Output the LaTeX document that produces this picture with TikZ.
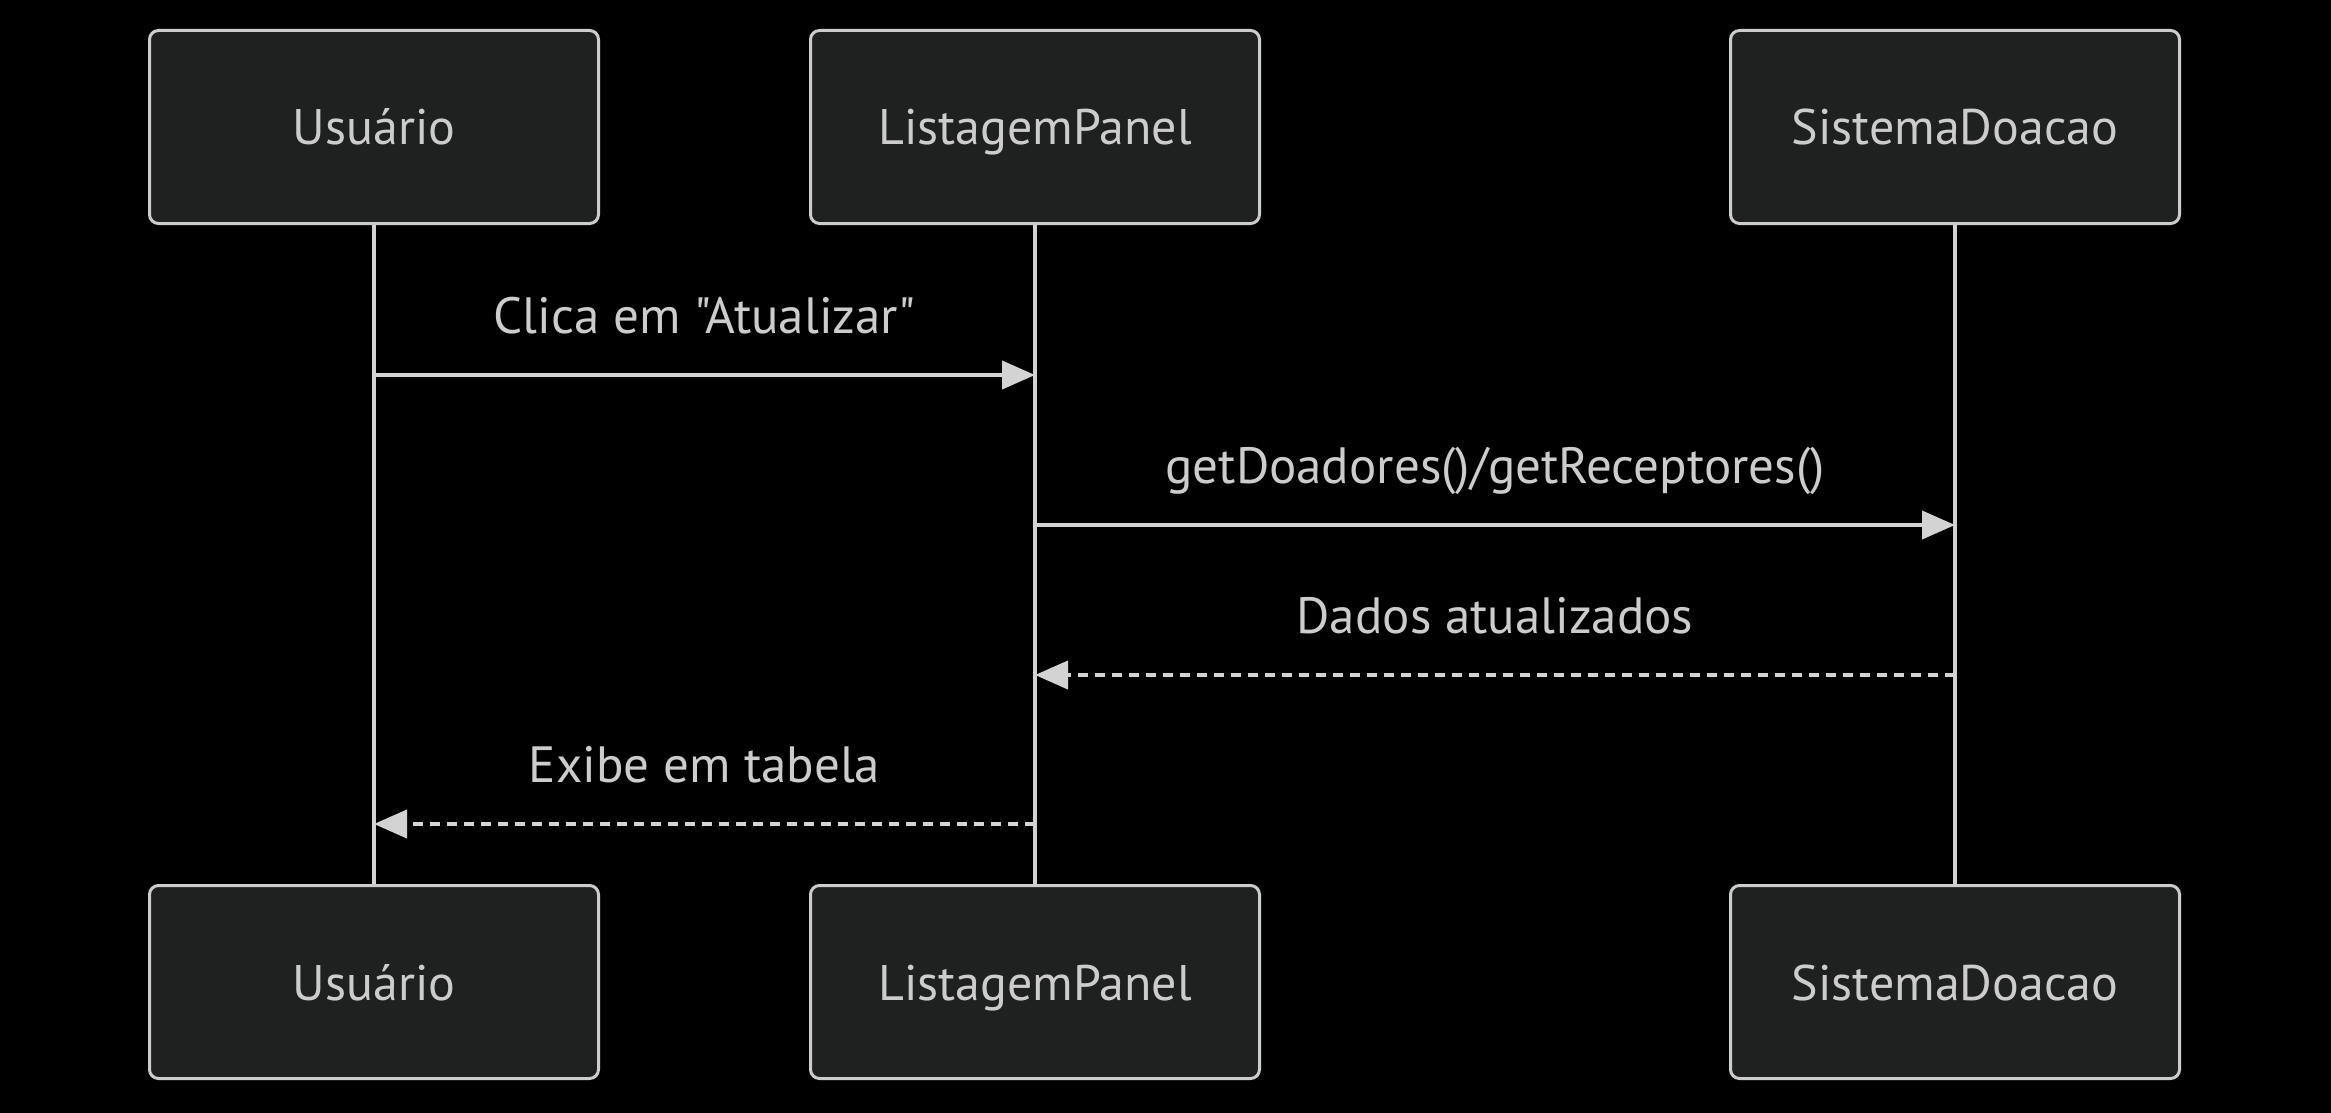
\documentclass[tikz,border=0pt]{standalone}
\usepackage{fontspec}
\setmainfont{PT Sans}[Ligatures=TeXOff]
\usetikzlibrary{positioning,arrows.meta}

\definecolor{actorfill}{HTML}{1F2020}
\definecolor{actorline}{HTML}{CCCCCC}
\definecolor{msgline}{HTML}{D3D3D3}

\tikzset{
    actor/.style={draw=actorline, fill=actorfill, line width=3pt, rounded corners=9pt,
        minimum width=449pt, minimum height=193pt, inner sep=0pt,
        text height=36pt, text depth=0pt,
        text=actorline, font=\fontsize{50}{60}\selectfont},
    lifeline/.style={draw=msgline, line width=4.5pt},
    msg/.style={draw=msgline, line width=4pt, -{Triangle[length=33pt,width=28pt]}},
    reply/.style={msg, dash pattern=on 10pt off 7pt},
    msglabel/.style={text=actorline, inner sep=0pt, anchor=base, yshift=42pt,
        font=\fontsize{51}{61}\selectfont}
}

\begin{document}
\begin{tikzpicture}[x=1pt, y=-1pt]
    % Background
    \fill[black] (0,0) rectangle (2331,1113);
    \useasboundingbox (0,0) rectangle (2331,1113);

    % Actors and lifelines
    \foreach \name/\x/\txt in {usr/374/Usuário, lst/1035/ListagemPanel, sis/1955/SistemaDoacao} {
        \node [actor] (\name) at (\x, 127) {\txt};
        \node [actor] (\name-b) at (\x, 982) {\txt};
        \draw [lifeline] (\name) -- (\name-b);
    }

    % Message rows
    \foreach \row/\y in {r1/375, r2/525, r3/675, r4/824}
        \coordinate (\row) at (0, \y);

    % Messages
    \draw [msg] (usr |- r1) -- node [msglabel] (m1) {Clica em "Atualizar"} (lst |- r1);
    \draw [msg] (lst |- r2) -- node [msglabel] (m2) {getDoadores()/getReceptores()} (sis |- r2);
    \draw [reply] (sis |- r3) -- node [msglabel] (m3) {Dados atualizados} (lst |- r3);
    \draw [reply] (lst |- r4) -- node [msglabel] (m4) {Exibe em tabela} (usr |- r4);
\end{tikzpicture}
\end{document}
